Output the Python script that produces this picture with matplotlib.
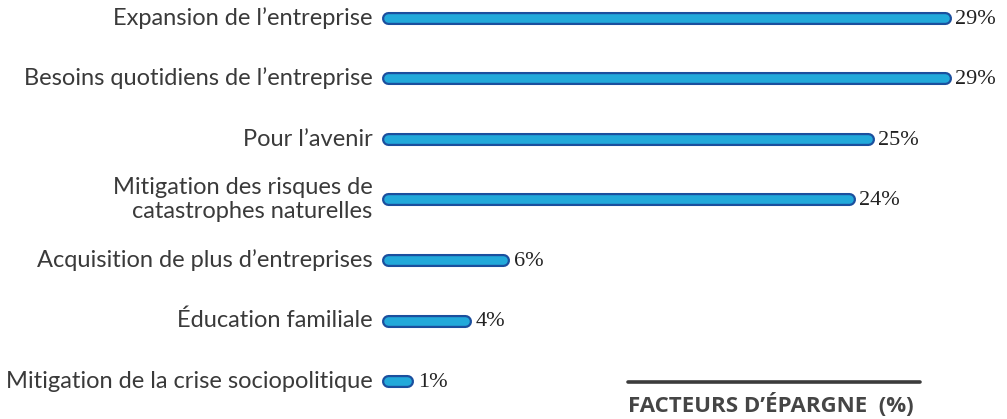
import matplotlib
matplotlib.use("Agg")
import matplotlib.pyplot as plt
import matplotlib.patheffects as pe
from matplotlib.lines import Line2D

labels = [
    "Expansion de l\u2019entreprise",
    "Besoins quotidiens de l\u2019entreprise",
    "Pour l\u2019avenir",
    "Mitigation des risques de\ncatastrophes naturelles",
    "Acquisition de plus d\u2019entreprises",
    "\u00c9ducation familiale",
    "Mitigation de la crise sociopolitique",
]
values = [29, 29, 25, 24, 6, 4, 1]
title = "FACTEURS D\u2019\u00c9PARGNE  (%)"

fill_col = "#22a9da"
edge_col = "#1b4f9e"
txt_col = "#3a3a3a"

W, H = 1007, 419
fig = plt.figure(figsize=(W / 100, H / 100), dpi=100)
ax = fig.add_axes([0, 0, 1, 1])

# pixel layout: value 0 at x=388, 19.2 px per %, rows 60.5 px apart from y=18
px0, ppu = 388, 19.2
y0, dy = 18, 60.5
ax.set_xlim(-px0 / ppu, (W - px0) / ppu)
ax.set_ylim((H - y0) / dy, -y0 / dy)
ax.axis("off")

for i, (lab, v) in enumerate(zip(labels, values)):
    ax.plot([0, v], [i, i], color=fill_col, lw=6.2, solid_capstyle="round",
            path_effects=[pe.withStroke(linewidth=9.4, foreground=edge_col)])
    ax.annotate(lab, (0, i), xytext=(-11, 0), textcoords="offset points",
                ha="right", va="center", fontsize=17, family="Lato",
                color=txt_col, linespacing=1.15)
    ax.annotate(f"{v}%", (v, i), xytext=(7.5, -1), textcoords="offset points",
                ha="left", va="center", fontsize=16, family="Liberation Serif",
                color="#222222")

fig.add_artist(Line2D([628 / W, 920 / W], [1 - 382 / H, 1 - 382 / H],
                      transform=fig.transFigure, color="#3c3c3c", lw=2.6,
                      solid_capstyle="round"))
fig.text(628 / W, 1 - 405 / H, title, ha="left", va="center", fontsize=16,
         fontweight="bold", family="Open Sans", color="#454545")

fig.savefig("out.png", dpi=100)
